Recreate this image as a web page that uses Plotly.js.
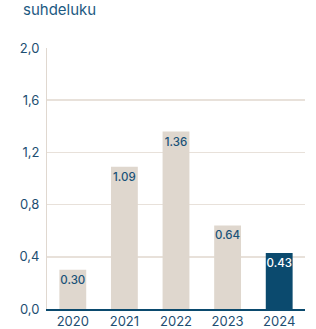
<!DOCTYPE html>
<html><head><meta charset="utf-8">
<script src="https://cdn.plot.ly/plotly-3.0.1.min.js"></script>
<style>html,body{margin:0;padding:0;background:#fff}</style>
</head><body><div id="chart" style="width:316px;height:329px"></div>
<script>
var years = ['2020','2021','2022','2023','2024'];
var values = [0.30, 1.09, 1.36, 0.64, 0.43];
var labels = ['0.30','1.09','1.36','0.64','0.43'];
var barColors = ['#dfd7ce','#dfd7ce','#dfd7ce','#dfd7ce','#0b4a6e'];
var labelColors = ['#1a5278','#1a5278','#1a5278','#1a5278','#ffffff'];

Plotly.newPlot('chart', [{
  type: 'bar', x: years, y: values, text: labels,
  textposition: 'inside', insidetextanchor: 'end', constraintext: 'none',
  textangle: 0,
  textfont: {family: 'Inter, sans-serif', size: 11.5, color: labelColors, weight: 500},
  marker: {color: barColors}, width: 0.52, hoverinfo: 'none', cliponaxis: false
}], {
  width: 316, height: 329,
  margin: {l: 47, r: 11, t: 48, b: 20},
  paper_bgcolor: '#fff', plot_bgcolor: '#fff',
  showlegend: false,
  separators: ', ',
  font: {family: 'Inter, sans-serif', color: '#1d4e72', size: 12},
  annotations: [{text: 'suhdeluku', xref: 'paper', yref: 'paper', x: -0.1, y: 1.147,
    xanchor: 'left', yanchor: 'middle', showarrow: false,
    font: {family: 'Inter, sans-serif', size: 15, color: '#1d5a82'}}],
  xaxis: {type: 'category', showgrid: false, zeroline: false, showline: true,
    linecolor: '#0b4a6e', linewidth: 1.5, ticks: '', tickfont: {size: 13, color: '#1d4e72'}},
  yaxis: {range: [0, 2], dtick: 0.4, tick0: 0, tickformat: '.1f', showgrid: true,
    gridcolor: '#e8e1da', gridwidth: 1.5, zeroline: false, showline: true, linecolor: '#e0d8d0',
    linewidth: 1, ticks: '', ticklabelstandoff: 4, tickfont: {size: 13, color: '#1d4e72'}}
}, {displayModeBar: false, staticPlot: true});
</script></body></html>
